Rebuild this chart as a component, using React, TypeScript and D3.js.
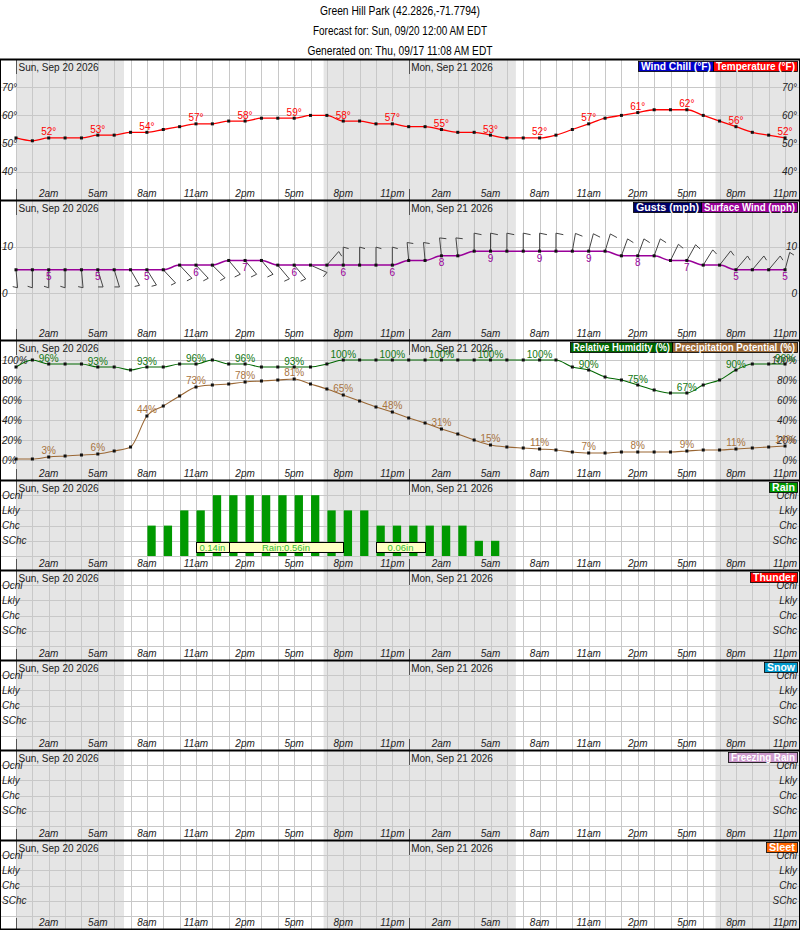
import React, { useEffect, useRef } from "react";
import * as d3 from "d3";

// header
const titleLines = [
  "Green Hill Park (42.2826,-71.7794)",
  "Forecast for: Sun, 09/20 12:00 AM EDT",
  "Generated on: Thu, 09/17 11:08 AM EDT",
];
const titleWidths = [160, 174, 185];
const dayLabels = ["Sun, Sep 20 2026", "Mon, Sep 21 2026"];
const dayStartHours = [0, 24];
const tickHourLabels = ["2am", "5am", "8am", "11am", "2pm", "5pm", "8pm", "11pm"];

// night (shaded) periods, in hours from Sun 12am
const nightStart = [0, 18.8, 42.75];
const nightEnd = [6.6, 30.55, 48];

// hourly series, Sun 12am .. Mon 11pm
const temperature = [
  52, 51, 52, 52, 52, 53, 53, 54, 54, 55, 56, 57, 57, 58, 58, 59, 59, 59, 60, 60, 58, 58, 57, 57,
  56, 56, 55, 54, 54, 53, 52, 52, 52, 53, 55, 57, 59, 60, 61, 62, 62, 62, 60, 58, 56, 54, 53, 52,
];
const windSpeed = [
  5, 5, 5, 5, 5, 5, 5, 5, 5, 5, 6, 6, 6, 7, 7, 7, 6, 6, 6, 6, 6, 6, 6, 6,
  7, 7, 8, 8, 9, 9, 9, 9, 9, 9, 9, 9, 9, 8, 8, 8, 7, 7, 6, 6, 5, 5, 5, 5,
];
const windDirection = [
  175, 180, 180, 180, 175, 163, 163, 150, 148, 137, 137, 137, 135, 140, 140, 140, 140, 140, 114, 41, 360, 360, 360, 360,
  355, 355, 354, 354, 360, 360, 360, 360, 360, 360, 10, 15, 17, 20, 20, 20, 26, 29, 32, 38, 40, 40, 40, 15,
];
const humidity = [
  93, 100, 96, 96, 96, 93, 93, 90, 93, 93, 96, 96, 100, 96, 96, 93, 93, 93, 93, 96, 100, 100, 100, 100,
  100, 100, 100, 100, 100, 100, 100, 100, 100, 100, 93, 90, 83, 80, 75, 70, 67, 67, 75, 80, 90, 96, 96, 96,
];
const precipPotential = [
  1, 1, 3, 4, 5, 6, 9, 13, 44, 54, 64, 73, 75, 76, 78, 79, 80, 81, 76, 71, 65, 59, 53, 48,
  42, 37, 31, 26, 20, 15, 13, 12, 11, 10, 8, 7, 7, 8, 8, 8, 8, 9, 10, 10, 11, 12, 13, 14,
];
// 0 none, 1 SChc, 2 Chc, 3 Lkly, 4 Ocnl
const rainChance = [
  0, 0, 0, 0, 0, 0, 0, 0, 2, 2, 3, 3, 4, 4, 4, 4, 4, 4, 4, 3, 3, 3, 2, 2,
  2, 2, 2, 2, 1, 1, 0, 0, 0, 0, 0, 0, 0, 0, 0, 0, 0, 0, 0, 0, 0, 0, 0, 0,
];
const rainTotalStart = [11, 13, 22];
const rainTotalEnd = [13, 20, 25];
const rainTotalText = ["0.14in", "Rain:0.56in", "0.06in"];

const tempTicks = [40, 50, 60, 70];
const windTicks = [0, 10];
const percentTicks = [0, 20, 40, 60, 80, 100];
const chanceLevels = [1, 2, 3, 4];
const chanceNames = ["SChc", "Chc", "Lkly", "Ocnl"];

const FONT = "Arial, 'Liberation Sans', Helvetica, sans-serif";

type Legend = [string, string, number];

function drawChart(node: SVGSVGElement) {
  const svg = d3.select(node);
  svg.selectAll("*").remove();
  const R = 799;
  const x = d3.scaleLinear().domain([0, 48]).range([16, 801.4]);
  const hours = d3.range(48);
  const labelHours = d3.range(2, 48, 3);

  svg.append("rect").attr("width", 800).attr("height", 930).attr("fill", "#fff");

  svg
    .append("g")
    .attr("font-family", FONT)
    .attr("font-size", 12)
    .attr("text-anchor", "middle")
    .attr("fill", "#000")
    .selectAll("text")
    .data(titleLines)
    .join("text")
    .attr("x", 400)
    .attr("y", (d, i) => 15 + i * 20)
    .attr("textLength", (d, i) => titleWidths[i])
    .attr("lengthAdjust", "spacingAndGlyphs")
    .text((d) => d);

  function base(top: number, bottom: number, y: (v: number) => number, grid: number[], fmt: (v: number, i: number) => string) {
    const g = svg.append("g").attr("font-family", FONT);
    g.append("rect").attr("x", 16).attr("y", top).attr("width", R - 16).attr("height", bottom - top).attr("fill", "#fff");
    g.selectAll(null)
      .data(d3.range(nightStart.length))
      .join("rect")
      .attr("x", (i) => x(nightStart[i]))
      .attr("y", top)
      .attr("width", (i) => Math.min(x(nightEnd[i]), R) - x(nightStart[i]))
      .attr("height", bottom - top)
      .attr("fill", "#e5e5e5");
    g.selectAll(null)
      .data(d3.range(0, 48))
      .join("line")
      .attr("x1", (h) => Math.round(x(h)) + 0.5)
      .attr("x2", (h) => Math.round(x(h)) + 0.5)
      .attr("y1", top)
      .attr("y2", bottom)
      .attr("stroke", "#c8c8c8");
    g.selectAll(null)
      .data(grid)
      .join("line")
      .attr("x1", 0)
      .attr("x2", R)
      .attr("y1", (v) => Math.round(y(v)) + 0.5)
      .attr("y2", (v) => Math.round(y(v)) + 0.5)
      .attr("stroke", "#c8c8c8");
    // midnight marks
    dayStartHours.forEach((h) => {
      const xx = Math.round(x(h)) + 0.5;
      g.append("line").attr("x1", xx).attr("x2", xx).attr("y1", top).attr("y2", top + 15).attr("stroke", "#555");
      g.append("line").attr("x1", xx).attr("x2", xx).attr("y1", bottom - 11).attr("y2", bottom).attr("stroke", "#555");
    });
    g.selectAll(null)
      .data(dayStartHours)
      .join("text")
      .attr("x", (h) => x(h) + 2.5)
      .attr("y", top + 12)
      .attr("font-size", 10)
      .attr("fill", "#222")
      .text((h, i) => dayLabels[i]);
    g.selectAll(null)
      .data(labelHours)
      .join("text")
      .attr("x", (h) => x(h))
      .attr("y", bottom - 3.5)
      .attr("text-anchor", "middle")
      .attr("font-size", 10)
      .attr("font-style", "italic")
      .attr("fill", "#222")
      .text((h) => tickHourLabels[((h - 2) / 3) % 8]);
    g.selectAll(null)
      .data(grid)
      .join("text")
      .attr("x", 2)
      .attr("y", (v) => y(v) + 3.5)
      .attr("font-size", 10)
      .attr("font-style", "italic")
      .attr("fill", "#222")
      .text((v, i) => fmt(v, i));
    g.selectAll(null)
      .data(grid)
      .join("text")
      .attr("x", 797)
      .attr("y", (v) => y(v) + 3.5)
      .attr("text-anchor", "end")
      .attr("font-size", 10)
      .attr("font-style", "italic")
      .attr("fill", "#222")
      .text((v, i) => fmt(v, i));
    return g;
  }

  function legend(top: number, items: Legend[]) {
    const g = svg.append("g").attr("font-family", FONT);
    let right = 797;
    const placed: { x: number; item: Legend }[] = [];
    for (let i = items.length - 1; i >= 0; i--) {
      right -= items[i][2];
      placed.push({ x: right, item: items[i] });
    }
    placed.forEach(({ x: bx, item }) => {
      g.append("rect")
        .attr("x", bx + 0.5)
        .attr("y", top + 2.5)
        .attr("width", item[2])
        .attr("height", 10)
        .attr("fill", item[1])
        .attr("stroke", "#000")
        .attr("stroke-width", 0.8);
      g.append("text")
        .attr("x", bx + item[2] / 2 + 0.5)
        .attr("y", top + 11)
        .attr("text-anchor", "middle")
        .attr("font-size", 10)
        .attr("font-weight", "bold")
        .attr("fill", "#fff")
        .attr("textLength", item[2] - 5)
        .attr("lengthAdjust", "spacingAndGlyphs")
        .text(item[0]);
    });
  }

  function markers(g: any, y: (v: number) => number, values: number[]) {
    g.selectAll(null)
      .data(hours)
      .join("rect")
      .attr("x", (i: number) => x(i) - 1.5)
      .attr("y", (i: number) => y(values[i]) - 1.5)
      .attr("width", 3)
      .attr("height", 3)
      .attr("fill", "#111");
  }

  function series(g: any, y: (v: number) => number, values: number[], color: string, width: number) {
    const line = d3
      .line<number>()
      .x((i) => x(i))
      .y((i) => y(values[i]))
      .curve(d3.curveMonotoneX);
    g.append("path").attr("d", line(hours)).attr("fill", "none").attr("stroke", color).attr("stroke-width", width);
  }

  function valueLabels(g: any, y: (v: number) => number, values: number[], color: string, dy: number, suffix: string) {
    g.selectAll(null)
      .data(labelHours)
      .join("text")
      .attr("x", (i: number) => x(i))
      .attr("y", (i: number) => y(values[i]) + dy)
      .attr("text-anchor", "middle")
      .attr("font-family", FONT)
      .attr("font-size", 10)
      .attr("fill", color)
      .text((i: number) => values[i] + suffix);
  }

  const tops = [59, 200, 340, 480, 570, 660, 750, 840, 929];

  // temperature
  {
    const top = tops[0], bottom = tops[1];
    const y = d3.scaleLinear().domain([30, 80]).range([bottom, top]);
    const g = base(top, bottom, y, tempTicks, (v) => v + "°");
    series(g, y, temperature, "#ff0000", 1.3);
    markers(g, y, temperature);
    valueLabels(g, y, temperature, "#ff0000", -2.5, "°");
    legend(top, [["Wind Chill (°F)", "#0000cc", 75], ["Temperature (°F)", "#ff0000", 84]]);
  }

  // wind
  {
    const top = tops[1], bottom = tops[2];
    const y = d3.scaleLinear().domain([-10.1, 20]).range([bottom, top]);
    const g = base(top, bottom, y, windTicks, (v) => String(v));
    // barbs
    const staff = 18;
    const barbs = g.append("g").attr("stroke", "#444").attr("stroke-width", 1).attr("fill", "none");
    barbs
      .selectAll(null)
      .data(hours)
      .join("path")
      .attr("d", (i) => {
        const a = (windDirection[i] * Math.PI) / 180;
        const dx = Math.sin(a), dy = -Math.cos(a);
        const px = x(i), py = y(windSpeed[i]);
        const ex = px + dx * staff, ey = py + dy * staff;
        const tl = 1.5 + windSpeed[i] * 0.65;
        const tx = ex - dy * tl + dx * -1.5, ty = ey + dx * tl + dy * -1.5;
        return `M${px},${py}L${ex},${ey}L${tx},${ty}`;
      });
    series(g, y, windSpeed, "#990099", 1.5);
    markers(g, y, windSpeed);
    valueLabels(g, y, windSpeed, "#990099", 10.5, "");
    legend(top, [["Gusts (mph)", "#000066", 68], ["Surface Wind (mph)", "#990099", 96]]);
  }

  // humidity & precipitation potential
  {
    const top = tops[2], bottom = tops[3];
    const y = d3.scaleLinear().domain([-20, 120]).range([bottom, top]);
    const g = base(top, bottom, y, percentTicks, (v) => v + "%");
    series(g, y, precipPotential, "#996633", 1.1);
    series(g, y, humidity, "#006600", 1.1);
    markers(g, y, precipPotential);
    markers(g, y, humidity);
    valueLabels(g, y, precipPotential, "#a8743f", -3, "%");
    valueLabels(g, y, humidity, "#117711", -2, "%");
    legend(top, [["Relative Humidity (%)", "#006600", 102], ["Precipitation Potential (%)", "#996633", 125]]);
  }

  // precip type panels
  const typePanels: Legend[] = [
    ["Rain", "#009900", 28],
    ["Thunder", "#ff0000", 47],
    ["Snow", "#0099cc", 33],
    ["Freezing Rain", "#cc99cc", 69],
    ["Sleet", "#ff6600", 31],
  ];
  typePanels.forEach((item, k) => {
    const top = tops[3 + k], bottom = tops[4 + k];
    const y = d3.scaleLinear().domain([0, 5]).range([top + 76, top]);
    const g = base(top, bottom, y, [0, ...chanceLevels], (v) => (v === 0 ? "" : chanceNames[v - 1]));
    if (k === 0) {
      g.selectAll(null)
        .data(hours.filter((i) => rainChance[i] > 0))
        .join("rect")
        .attr("x", (i) => x(i) + 0.5)
        .attr("y", (i) => y(rainChance[i]))
        .attr("width", 8.3)
        .attr("height", (i) => y(0) - y(rainChance[i]))
        .attr("fill", "#009900");
      const boxes = g.selectAll(null).data(d3.range(rainTotalText.length)).join("g");
      boxes
        .append("rect")
        .attr("x", (j) => Math.round(x(rainTotalStart[j])) + 0.5)
        .attr("y", Math.round(y(0.95)) + 0.5)
        .attr("width", (j) => Math.round(x(rainTotalEnd[j])) - Math.round(x(rainTotalStart[j])))
        .attr("height", 10)
        .attr("fill", "#ffffc4")
        .attr("stroke", "#000");
      boxes
        .append("text")
        .attr("x", (j) => (x(rainTotalStart[j]) + x(rainTotalEnd[j])) / 2)
        .attr("y", Math.round(y(0.95)) + 9)
        .attr("text-anchor", "middle")
        .attr("font-size", 9.5)
        .attr("fill", "#33bb33")
        .text((j) => rainTotalText[j]);
    }
    legend(top, [item]);
  });

  // frame and panel separators
  svg
    .append("g")
    .selectAll(null)
    .data(tops)
    .join("line")
    .attr("x1", 0)
    .attr("x2", 800)
    .attr("y1", (t) => t + 0.5)
    .attr("y2", (t) => t + 0.5)
    .attr("stroke", "#000")
    .attr("stroke-width", 2);
  svg.append("line").attr("x1", 0.5).attr("x2", 0.5).attr("y1", tops[0]).attr("y2", 930).attr("stroke", "#000");
  svg.append("line").attr("x1", 799.5).attr("x2", 799.5).attr("y1", tops[0]).attr("y2", 930).attr("stroke", "#000");
}

export default function App() {
  const ref = useRef<SVGSVGElement>(null);
  useEffect(() => {
    if (ref.current) drawChart(ref.current);
  }, []);
  return (
    <svg
      ref={ref}
      width={800}
      height={930}
      style={{ position: "absolute", left: 0, top: 0, display: "block" }}
    />
  );
}
